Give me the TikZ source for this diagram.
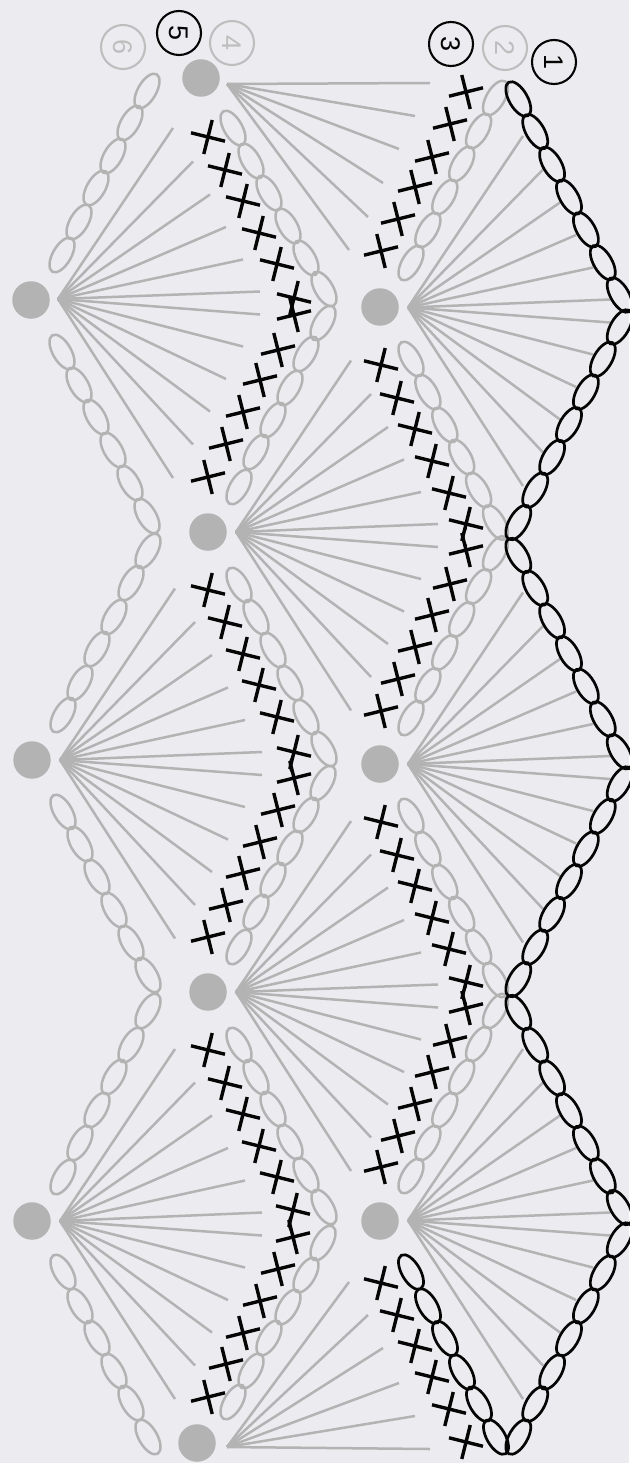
\documentclass[tikz,border=0pt]{standalone}
\usepackage{fontspec}
\setmainfont{Liberation Sans}
\definecolor{bgc}{RGB}{236,235,239}
\definecolor{gc}{RGB}{179,179,179}
\definecolor{lgc}{RGB}{190,190,190}
\definecolor{inkc}{RGB}{5,5,5}
\newcommand{\fanU}[3]{\foreach \dx/\dy in {202/-11.5,185/-43.5,168/-76,152/-108.5,135/-141.5,115/-175}{\draw[fanline] (#1,#2) -- ({#1+\dx},{#3+\dy});}}
\newcommand{\fanD}[3]{\foreach \dx/\dy in {202/11.5,185/43.5,168/76,152/108.5,135/141.5,115/175}{\draw[fanline] (#1,#2) -- ({#1+\dx},{#3+\dy});}}
% ellipses: "\" direction (x grows as y grows) and "/" direction
\newcommand{\bs}[2]{\foreach \x/\y in {#2}{\draw[#1,shift={(\x,\y)},rotate=-60] (0,0) ellipse [x radius=19.3pt,y radius=9.2pt];}}
\newcommand{\fs}[2]{\foreach \x/\y in {#2}{\draw[#1,shift={(\x,\y)},rotate=60] (0,0) ellipse [x radius=19.3pt,y radius=9.2pt];}}
\newcommand{\crU}[1]{\foreach \x/\y in {#1}{\pic[rotate=-14] at (\x,\y) {xst};}}
\newcommand{\crD}[1]{\foreach \x/\y in {#1}{\pic[rotate=14] at (\x,\y) {xst};}}
\tikzset{
  fanline/.style={draw=gc,line width=2.5pt},
  dotnode/.style={circle,fill=gc,draw=none,minimum size=37.5pt,inner sep=0pt},
  blk/.style={draw=inkc,line width=2.7pt},
  gry/.style={draw=gc,line width=2.5pt},
  xst/.pic={\draw[draw=inkc,line width=3.4pt] (-17.5pt,0pt)--(17.5pt,0pt) (0pt,-17.5pt)--(0pt,17.5pt);},
  lab/.style={circle,draw,line width=2.1pt,minimum size=44pt,inner sep=0pt,rotate=-90,font=\fontsize{27}{27}\selectfont},
  labk/.style={lab,draw=inkc,text=inkc},
  labg/.style={lab,draw=lgc,text=lgc},
  kink/.style={draw=inkc,line width=2.4pt}
}
\begin{document}
\begin{tikzpicture}[x=1pt,y=-1pt]
\fill[bgc] (0,0) rectangle (629,1463);
\useasboundingbox (0,0) rectangle (629,1463);

% ---- dots
\foreach \n/\x/\y in {a1/201/78,a2/208/532,a3/208/992,a4/197/1443,
                      b1/31/300,b2/32/760,b3/32/1221,
                      c1/380/307,c2/380/764,c3/380/1221}{
  \node[dotnode] (\n) at (\x,\y) {};
}

% ---- fans: right row
\fanU{408}{307.5}{311}\fanD{408}{307.5}{311}
\fanU{408}{764}{767.5}\fanD{408}{764}{767.5}
\fanU{408}{1220.5}{1224}\fanD{408}{1220.5}{1224}
% ---- fans: left row
\fanU{58}{299}{303}\fanD{58}{299}{303}
\fanU{60}{760}{763.5}\fanD{60}{760}{763.5}
\fanU{60}{1221}{1224}\fanD{60}{1221}{1224}
% ---- fans: middle row
\fanU{236}{532}{535.5}\fanD{236}{532}{535.5}
\fanU{236}{992}{996}\fanD{236}{992}{996}
\foreach \x/\y in {430/83,415/116,399/149,383/183,368/217,349/250}{\draw[fanline] (227,84) -- (\x,\y);}
\foreach \x/\y in {430/1449,415/1416,399/1383,383/1348,368/1315,349/1282}{\draw[fanline] (227,1447) -- (\x,\y);}

% ---- round 2 (grey)
\fs{gry}{495.5/98,478.6/131,461.7/164,444.8/197,427.9/230,411/263,
         495.5/553.5,478.6/586.5,461.7/619.5,444.8/652.5,427.9/685.5,411/718,
         495.5/1011,478.6/1044,461.7/1077,444.8/1110,427.9/1143,411/1176}
\bs{gry}{411/359,427.9/392,444.8/425,461.7/457,478.6/490,495.5/522.5,
         411/816,427.9/849,444.8/882,461.7/914,478.6/947,495.5/980}

% ---- round 1 (black), outer right
\bs{blk}{518.3/99,535.2/131.7,552.1/164.4,569/197.1,585.9/229.8,602.8/262.5,619.7/295,
         518.3/555.5,535.2/588.2,552.1/620.9,569/653.6,585.9/686.3,602.8/719,619.7/751.7,
         518.3/1012.5,535.2/1045.2,552.1/1077.9,569/1110.6,585.9/1143.3,602.8/1176,619.7/1207.5}
\fs{blk}{619.7/327,602.8/359.3,585.9/392,569/424.7,552.1/457.4,535.2/490.1,518.3/522.5,
         619.7/784,602.8/816.3,585.9/849,569/881.7,552.1/914.4,535.2/947.1,518.3/979.5,
         619.7/1240,602.8/1273,585.9/1306,569/1338.5,552.1/1372,535.2/1404,518.3/1437}
% ---- round 3 end (black)
\bs{blk}{411/1272,428/1306,445/1338.5,462/1372,479/1404,496/1437}

% ---- round 4 (grey)
\bs{gry}{324/289,306/258,288/226,269/193,251/161,233/128,
         324/749,306/717,290/683,273/650,256/617,239/585,
         324/1207,306/1175,290/1142,273/1109,256/1077,239/1045}
\fs{gry}{323/323,306/354,290/388,273/420,256/452,239/487,
         323/783,306/815,290/848,273/880,256/912,239/947,
         323/1243,306/1275,288/1307,269/1338,251/1371,233/1402}

% ---- round 6 (grey)
\fs{gry}{147/91,130/123,113/156,96/188,79/222,62/255,
         148/551,131/583,114/617,97/649,80/683,63/715,
         148/1011,131/1045,114/1077,97/1110,80/1143,63/1177}
\bs{gry}{62/352,79/385,96/417,113/450,130/483,147/516,
         63/812,80/844,97/877,114/910,131/943,148/975,
         63/1272,80/1306,97/1338,114/1371,131/1403,148/1437}

% ---- round 3 (crosses)
\crD{466/92,450/124,432/157,415/187,398/219,381/251,
     466/550,450/584,432/615,415/647,398/679,381/711,
     466/1008,450/1041,432/1072,415/1104,398/1136,381/1167}
\crU{381/365,397/398,415/429,432/461,449/493,466/524,
     381/822,397/855,415/886,432/918,449/949,466/982,
     381/1283,397/1315,415/1346,432/1377,449/1409,466/1442}
% ---- round 5 (crosses)
\crU{208/137,225/170,243/201,259/233,277/264,294/298,
     208/590,225/622,243/654,259/685,277/717,294/752,
     208/1050,225/1083,243/1114,259/1146,277/1177,293/1210}
\crD{294/315,278/350,260/380,243/412,226/444,208/477,
     294/778,278/810,260/842,243/873,226/905,208/937,
     293/1237,278/1269,260/1301,243/1333,226/1364,208/1397}
% ---- small joins between the two middle crosses
\foreach \x/\y in {466/537,466/995,293/765,292/1223.5}{
  \draw[kink] (\x,\y-9) .. controls (\x-4,\y-3) and (\x-4,\y+3) .. (\x,\y+9);
}

% ---- labels
\node[labk] (n1) at (554,62) {1};
\node[labg] (n2) at (505,48) {2};
\node[labk] (n3) at (451,44) {3};
\node[labg] (n4) at (232,43) {4};
\node[labk] (n5) at (179,33) {5};
\node[labg] (n6) at (123,47) {6};
\end{tikzpicture}
\end{document}
